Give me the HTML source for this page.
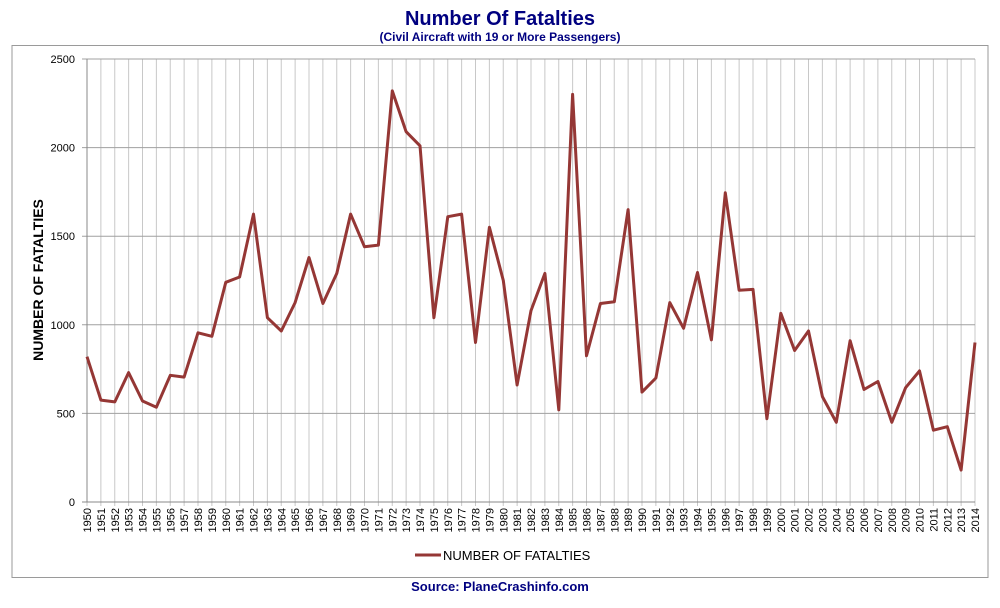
<!DOCTYPE html>
<html><head><style>
body{margin:0;background:#fff;width:1000px;height:603px;overflow:hidden;font-family:"Liberation Sans",sans-serif}
</style></head><body>
<svg id="s" width="1000" height="603" xmlns="http://www.w3.org/2000/svg" font-family="Liberation Sans, sans-serif">
<text x="500" y="25" text-anchor="middle" font-size="20" font-weight="bold" fill="#000080">Number Of Fatalties</text>
<text x="500" y="41" text-anchor="middle" font-size="12" font-weight="bold" fill="#000080">(Civil Aircraft with 19 or More Passengers)</text>
<rect x="12" y="45.5" width="976" height="532" fill="#fff" stroke="#9a9a9a" stroke-width="1"/>
<g id="grid"></g>
<text transform="translate(43,280) rotate(-90)" text-anchor="middle" font-size="14" font-weight="bold" fill="#000">NUMBER OF FATALTIES</text>
<line x1="415" y1="555" x2="441" y2="555" stroke="#953735" stroke-width="3"/>
<text x="443" y="560" font-size="13" fill="#000">NUMBER OF FATALTIES</text>
<text x="500" y="591" text-anchor="middle" font-size="13" font-weight="bold" fill="#000080">Source: PlaneCrashinfo.com</text>
</svg>
<script>
var d=[820,575,565,730,570,535,715,705,955,935,1240,1270,1625,1040,965,1125,1380,1120,1290,1625,1440,1450,2320,2090,2010,1040,1610,1625,900,1550,1250,660,1080,1290,520,2300,825,1120,1130,1650,620,700,1125,980,1295,915,1745,1195,1200,470,1065,855,965,595,450,910,635,680,450,645,740,405,425,180,900];
var L=87,R=975,T=59,B=502,st=(R-L)/64,h='';
for(var i=0;i<65;i++){var x=L+i*st;h+='<line x1="'+x+'" y1="'+T+'" x2="'+x+'" y2="'+(B+4)+'" stroke="#c8c8c8"/>';
h+='<text transform="translate('+(x+4)+','+(B+6)+') rotate(-90)" text-anchor="end" font-size="11" fill="#000">'+(1950+i)+'</text>';}
for(var v=0;v<=2500;v+=500){var y=B-v*(B-T)/2500;h+='<line x1="'+(L-5)+'" y1="'+y+'" x2="'+R+'" y2="'+y+'" stroke="'+(v==0?'#888':'#a0a0a0')+'"/>';
h+='<text x="'+(L-12)+'" y="'+(y+4)+'" text-anchor="end" font-size="11" fill="#000">'+v+'</text>';}
h+='<line x1="'+L+'" y1="'+T+'" x2="'+L+'" y2="'+B+'" stroke="#888"/>';
var p=d.map(function(v,i){return (L+i*st).toFixed(1)+','+(B-v*(B-T)/2500).toFixed(1)}).join(' ');
h+='<polyline points="'+p+'" fill="none" stroke="#953735" stroke-width="3" stroke-linejoin="round"/>';
document.getElementById('grid').innerHTML=h;
</script>
</body></html>
